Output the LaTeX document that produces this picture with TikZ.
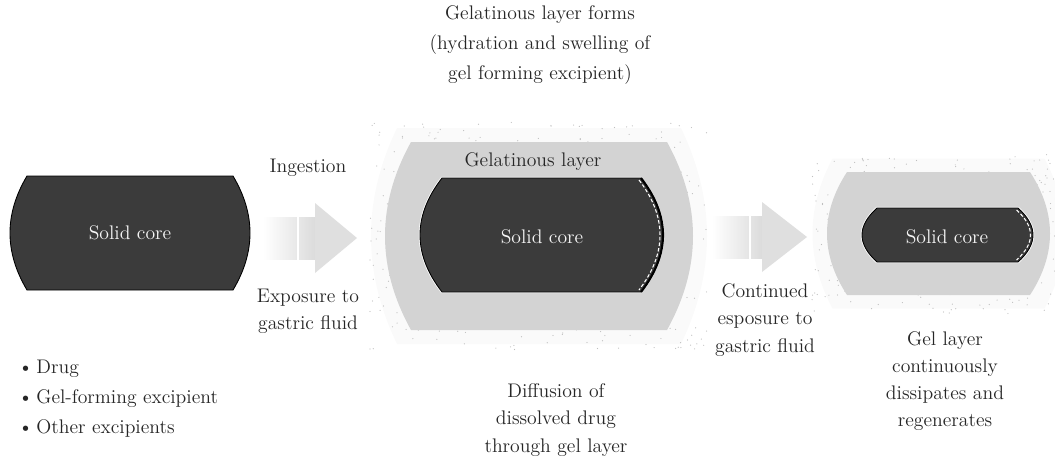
\documentclass[tikz,border=0pt]{standalone}
\definecolor{coregray}{HTML}{3B3B3B}
\definecolor{gelgray}{HTML}{D3D3D3}
\definecolor{inkgray}{HTML}{262626}
% capsule: style, cx, cy, half width, half height, bulge
\newcommand{\capsule}[6]{%
  \path[#1] (#2-#4+#6,#3-#5) -- (#2+#4-#6,#3-#5)
    .. controls (#2+#4+#6/3,#3-#5/3) and (#2+#4+#6/3,#3+#5/3) .. (#2+#4-#6,#3+#5)
    -- (#2-#4+#6,#3+#5)
    .. controls (#2-#4-#6/3,#3+#5/3) and (#2-#4-#6/3,#3-#5/3) .. cycle;}
% right side of a capsule only
\newcommand{\rightside}[6]{%
  \path[#1] (#2+#4-#6,#3-#5)
    .. controls (#2+#4+#6/3,#3-#5/3) and (#2+#4+#6/3,#3+#5/3) .. (#2+#4-#6,#3+#5);}
% block arrow: start, gap, head start, tip, cy
\newcommand{\blockarrow}[5]{%
  \fill[left color=white,right color=gray!28] (#1,#5-21) rectangle (#3,#5+21);
  \fill[gray!25] (#3,#5-35) -- (#4,#5) -- (#3,#5+35) -- cycle;
  \draw[white,line width=1.2pt] (#2,#5-22) -- (#2,#5+22);}
\tikzset{
  txt/.style={text=inkgray,align=center,font=\fontsize{11.2}{15.5}\selectfont},
  coretxt/.style={text=gray!8,font=\fontsize{11.2}{15.5}\selectfont},
  core/.style={fill=coregray,draw=black,line width=0.5pt},
  rim/.style={draw=white,line width=1.4pt},
  erode/.style={draw=white,line width=0.6pt,dash pattern=on 2pt off 1.2pt},
  gel/.style={fill=gelgray},
  halo/.style={fill=gray!4},
  speck/.style={fill=gray!50}
}
\begin{document}
\begin{tikzpicture}[x=0.02cm,y=-0.02cm]
    \useasboundingbox (0,0) rectangle (1055,457);
    \pgfmathsetseed{11}
    % dry tablet
    \capsule{core}{130}{233}{120}{57}{17}
    \node[coretxt] (core1) at (130,233) {Solid core};
    \node[txt,align=left,anchor=west,font=\fontsize{11.2}{17}\selectfont] (ingr) at (12,399)
        {\textbullet\,Drug\\ \textbullet\,Gel-forming excipient\\ \textbullet\,Other excipients};
    % first step
    \blockarrow{263}{298}{315}{357}{238}
    \node[txt] (ingest) at (308,168) {Ingestion};
    \node[txt] (expose) at (308,311) {Exposure to\\ gastric fluid};
    % swollen tablet
    \capsule{halo}{539}{236}{168}{108}{26}
    \foreach \k in {1,...,450}
        \fill[speck] ({368+rnd*342},{122+rnd*228}) circle[radius=0.35pt];
    \capsule{gel}{539}{236}{154}{94}{26}
    \capsule{rim}{541.5}{235}{121.5}{57}{22}
    \capsule{core}{541.5}{235}{121.5}{57}{22}
    \rightside{draw=black,line width=1.2pt}{541.5}{235}{121.5}{57}{22}
    \rightside{erode}{541.5}{235}{118.5}{55}{21}
    \node[coretxt] (core2) at (542,237) {Solid core};
    \node[txt] (gellayer) at (533,162) {Gelatinous layer};
    \node[txt,font=\fontsize{11.2}{17}\selectfont] (forms) at (540,45)
        {Gelatinous layer forms\\ (hydration and swelling of\\ gel forming excipient)};
    \node[txt] (diffuse) at (556,420) {Diffusion of\\ dissolved drug\\ through gel layer};
    % second step
    \blockarrow{712}{750}{762}{807}{237}
    \node[txt] (continued) at (765,320) {Continued\\ esposure to\\ gastric fluid};
    % eroding tablet
    \capsule{halo}{938.5}{233.5}{126}{75}{20}
    \foreach \k in {1,...,350}
        \fill[speck] ({812+rnd*250},{154+rnd*160}) circle[radius=0.35pt];
    \capsule{gel}{938.5}{233.5}{111.5}{61.5}{20}
    \capsule{rim}{947.5}{235}{85.5}{27}{15}
    \capsule{core}{947.5}{235}{85.5}{27}{15}
    \rightside{erode}{947.5}{235}{83}{25}{14}
    \node[coretxt] (core3) at (947,237) {Solid core};
    \node[txt] (dissipate) at (945,381) {Gel layer\\ continuously\\ dissipates and\\ regenerates};
\end{tikzpicture}
\end{document}
